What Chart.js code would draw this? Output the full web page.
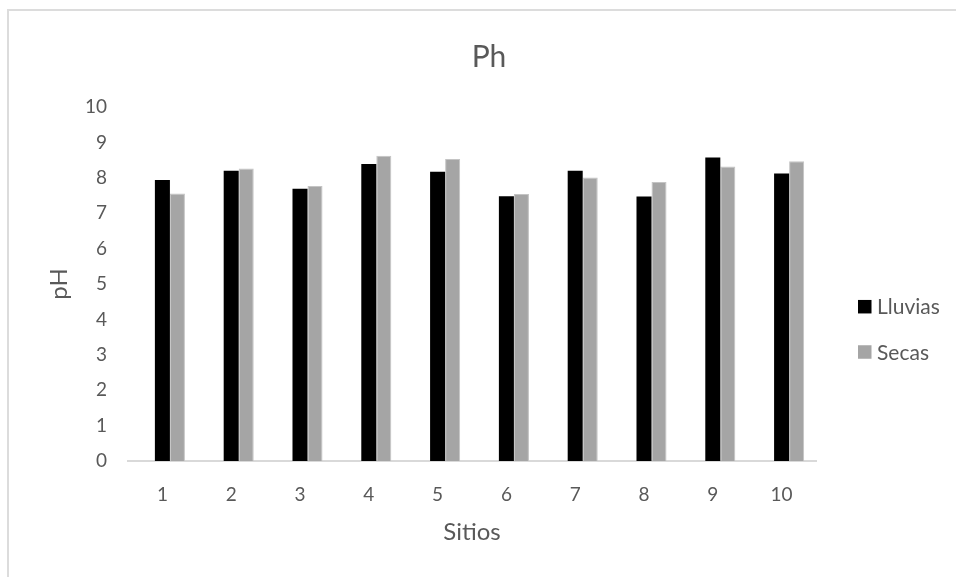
<!DOCTYPE html>
<html>
<head>
<meta charset="utf-8">
<title>Ph</title>
<script src="https://cdn.jsdelivr.net/npm/chart.js@4/dist/chart.umd.min.js"></script>
<style>
  html, body { margin: 0; padding: 0; background: #ffffff; }
  #wrap { position: relative; width: 956px; height: 577px; overflow: hidden; }
  #frame {
    position: absolute; left: 7px; top: 9px; width: 1000px; height: 700px;
    border-left: 2px solid #dcdcdc; border-top: 2px solid #dcdcdc;
  }
  #c { position: absolute; left: 0; top: 0; }
</style>
</head>
<body>
<div id="wrap">
  <div id="frame"></div>
  <canvas id="c" width="956" height="577"></canvas>
</div>
<script>
// Sampling sites and pH readings for the rainy and dry seasons
const sitios = ['1', '2', '3', '4', '5', '6', '7', '8', '9', '10'];
const lluvias = [7.94, 8.20, 7.69, 8.39, 8.17, 7.48, 8.20, 7.47, 8.57, 8.12];
const secas   = [7.56, 8.26, 7.77, 8.62, 8.53, 7.54, 8.01, 7.88, 8.32, 8.47];
const yTicks  = [0, 1, 2, 3, 4, 5, 6, 7, 8, 9, 10];

const FONT = 'Lato, "Open Sans", sans-serif';
const TEXT = '#595959';

// Legend drawn at the right edge, one row per visible series
const sideLegend = {
  id: 'sideLegend',
  afterDraw(chart) {
    const ctx = chart.ctx;
    const rows = chart.data.datasets.filter(d => d.label);
    const x0 = 858, box = 13.5, rowY = [306.7, 352];
    ctx.save();
    ctx.font = '21px ' + FONT;
    ctx.textBaseline = 'middle';
    ctx.textAlign = 'left';
    rows.forEach((ds, i) => {
      const y = rowY[i];
      ctx.fillStyle = ds.backgroundColor;
      ctx.fillRect(x0, y - box / 2, box, box);
      ctx.fillStyle = TEXT;
      ctx.fillText(ds.label, x0 + 19, y + 1);
    });
    ctx.restore();
  }
};

new Chart(document.getElementById('c'), {
  type: 'bar',
  data: {
    labels: sitios,
    datasets: [
      // empty leading slot so each pair sits slightly right of its tick
      { label: '', data: sitios.map(() => null), backgroundColor: 'rgba(0,0,0,0)' },
      { label: 'Lluvias', data: lluvias, backgroundColor: '#000000', borderWidth: 0 },
      { label: 'Secas', data: secas, backgroundColor: '#a5a5a5', borderColor: '#c4c4c4', borderWidth: 1 }
    ]
  },
  options: {
    responsive: false,
    animation: false,
    categoryPercentage: 0.655,
    barPercentage: 1.0,
    layout: { padding: { left: 22, right: 0, top: 0, bottom: 0 } },
    plugins: {
      legend: { display: false },
      tooltip: { enabled: false },
      title: {
        display: true,
        text: 'Ph',
        color: TEXT,
        font: { family: FONT, size: 30, weight: 'normal', lineHeight: 1.2 },
        padding: { top: 39, bottom: 32 }
      }
    },
    scales: {
      x: {
        grid: { display: false, drawTicks: false },
        border: { display: true, color: '#d9d9d9', width: 2 },
        ticks: { color: TEXT, font: { family: FONT, size: 19 }, padding: 22 },
        title: {
          display: true,
          text: 'Sitios',
          color: TEXT,
          font: { family: FONT, size: 24, lineHeight: 1.2 },
          padding: { top: 0, bottom: 30 }
        },
        afterFit(scale) { scale.height = 116; }
      },
      y: {
        min: 0,
        max: 10,
        afterBuildTicks(scale) { scale.ticks = yTicks.map(v => ({ value: v })); },
        grid: { display: false, drawTicks: false },
        border: { display: false },
        ticks: { color: TEXT, font: { family: FONT, size: 19 }, padding: 21 },
        title: {
          display: true,
          text: 'pH',
          color: TEXT,
          font: { family: FONT, size: 24, lineHeight: 1.2 },
          padding: { top: 23, bottom: 0 }
        },
        afterFit(scale) { scale.width = 106; }
      },
      // blank strip on the right that holds the legend
      side: {
        type: 'linear',
        position: 'right',
        display: true,
        grid: { display: false, drawTicks: false },
        border: { display: false },
        ticks: { display: false },
        afterFit(scale) { scale.width = 140; }
      }
    }
  },
  plugins: [sideLegend]
});
</script>
</body>
</html>
